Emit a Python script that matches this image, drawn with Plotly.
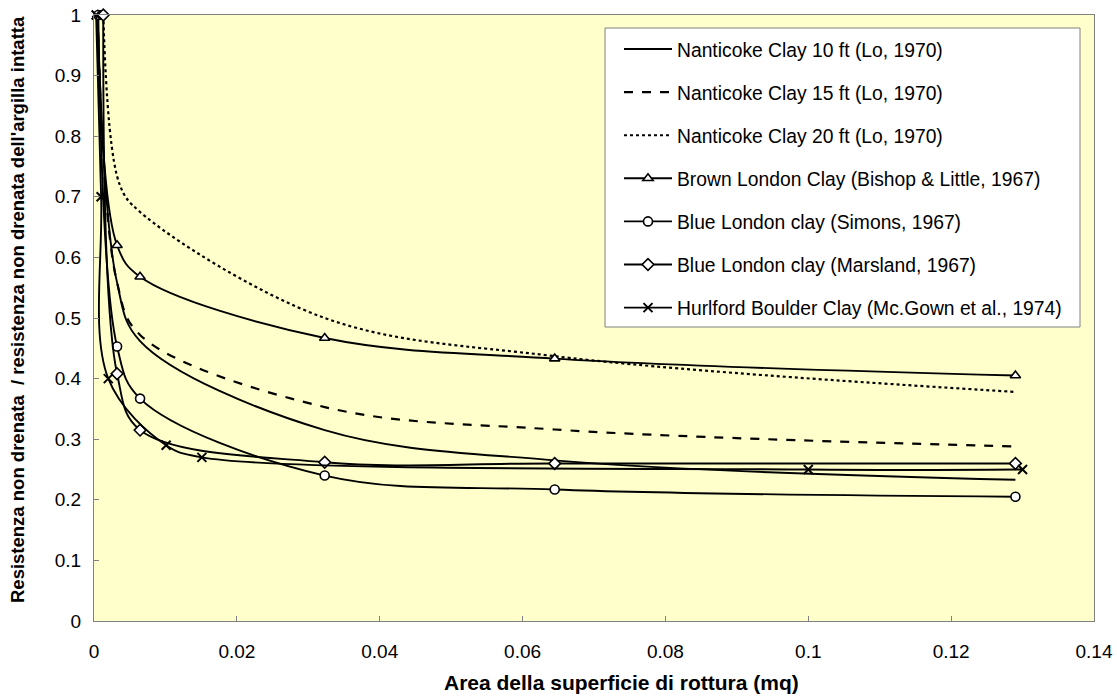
import plotly.graph_objects as go

# Data
names = [
    "Nanticoke Clay 10 ft (Lo, 1970)",
    "Nanticoke Clay 15 ft (Lo, 1970)",
    "Nanticoke Clay 20 ft (Lo, 1970)",
    "Brown London Clay (Bishop & Little, 1967)",
    "Blue London clay (Simons, 1967)",
    "Blue London clay (Marsland, 1967)",
    "Hurlford Boulder Clay (Mc.Gown et al., 1974)",
]

n10_x = [0.0005, 0.0032, 0.00645, 0.0323, 0.0645, 0.129]
n10_y = [1.0, 0.56, 0.462, 0.315, 0.265, 0.233]

n15_x = [0.0005, 0.0032, 0.00645, 0.0323, 0.0645, 0.129]
n15_y = [1.0, 0.56, 0.472, 0.353, 0.316, 0.288]

n20_x = [0.0013, 0.0036, 0.00645, 0.0323, 0.0645, 0.129]
n20_y = [1.0, 0.72, 0.675, 0.5, 0.437, 0.378]

brown_x = [0.0005, 0.00323, 0.00645, 0.0323, 0.0645, 0.129]
brown_y = [1.0, 0.62, 0.568, 0.467, 0.433, 0.405]

simons_x = [0.0006, 0.00323, 0.00645, 0.0323, 0.0645, 0.129]
simons_y = [1.0, 0.453, 0.367, 0.24, 0.217, 0.205]

marsland_x = [0.0013, 0.00323, 0.00645, 0.0323, 0.0645, 0.129]
marsland_y = [1.0, 0.408, 0.315, 0.262, 0.26, 0.26]

hurl_x = [0.0003, 0.001, 0.002, 0.0101, 0.0151, 0.1, 0.13]
hurl_y = [1.0, 0.70, 0.40, 0.29, 0.27, 0.25, 0.25]

x_ticks = [0, 0.02, 0.04, 0.06, 0.08, 0.1, 0.12, 0.14]
y_ticks = [0, 0.1, 0.2, 0.3, 0.4, 0.5, 0.6, 0.7, 0.8, 0.9, 1]

x_title = "Area della superficie di rottura (mq)"
y_title = "Resistenza non drenata  / resistenza non drenata dell'argilla intatta"

series = [
    (n10_x, n10_y, "solid", None),
    (n15_x, n15_y, "dash", None),
    (n20_x, n20_y, "dot", None),
    (brown_x, brown_y, "solid", "triangle-up"),
    (simons_x, simons_y, "solid", "circle"),
    (marsland_x, marsland_y, "solid", "diamond"),
    (hurl_x, hurl_y, "solid", "x-thin"),
]

fig = go.Figure()
for i, (xs, ys, dash, sym) in enumerate(series):
    mode = "lines+markers" if sym else "lines"
    marker = None
    if sym == "x-thin":
        marker = dict(symbol="x-thin", size=9, color="black",
                      line=dict(color="black", width=2))
    elif sym:
        marker = dict(symbol=sym, size=9, color="white",
                      line=dict(color="black", width=1.6))
    fig.add_trace(go.Scatter(
        x=xs, y=ys, name=names[i], mode=mode, cliponaxis=False,
        line=dict(color="black", width=1.9 if dash == "solid" else 2.2, dash=dash,
                  shape="spline", smoothing=1.0),
        marker=marker, legendgroup=f"g{i}",
    ))

# legend frame (white box with grey border)
fig.add_shape(type="rect", xref="paper", yref="paper",
              x0=(605 - 94) / 1000, x1=(1080 - 94) / 1000,
              y0=(621 - 327) / 606, y1=(621 - 28) / 606,
              fillcolor="white", line=dict(color="#808080", width=1), layer="below")

fig.update_layout(
    width=1117, height=696,
    margin=dict(l=94, r=23, t=15, b=75),
    paper_bgcolor="white",
    plot_bgcolor="#FFFFCC",
    font=dict(family="Liberation Sans, Arial, sans-serif", size=19, color="black"),
    showlegend=True,
    legend=dict(
        x=(619 - 94) / 1000, y=(621 - 30) / 606, xanchor="left", yanchor="top",
        bgcolor="rgba(0,0,0,0)", borderwidth=0,
        font=dict(size=19.3), itemwidth=48, tracegroupgap=15,
        traceorder="grouped",
    ),
    xaxis=dict(
        range=[0, 0.14], tickvals=x_ticks, ticktext=[f"{v:g}" for v in x_ticks],
        ticks="inside", ticklen=5, tickcolor="#808080",
        showline=True, linecolor="#808080", linewidth=1, mirror=True,
        showgrid=False, zeroline=False, ticklabelstandoff=13,
        automargin=False, tickfont=dict(size=19),
    ),
    yaxis=dict(
        range=[0, 1], tickvals=y_ticks, ticktext=[f"{v:g}" for v in y_ticks],
        ticks="inside", ticklen=5, tickcolor="#808080",
        showline=True, linecolor="#808080", linewidth=1, mirror=True,
        showgrid=False, zeroline=False, ticklabelstandoff=8,
        automargin=False, tickfont=dict(size=19),
    ),
    annotations=[
        dict(text=f"<b>{x_title}</b>", xref="paper", yref="paper",
             x=(621 - 94) / 1000, y=(621 - 682) / 606, xanchor="center", yanchor="middle",
             showarrow=False, font=dict(size=21)),
        dict(text=f"<b>{y_title}</b>", xref="paper", yref="paper",
             x=(18 - 94) / 1000, y=(621 - 310) / 606, xanchor="center", yanchor="middle",
             textangle=-90, showarrow=False, font=dict(size=18.5)),
    ],
)

fig.write_html("out.html", config={"displayModeBar": False},
               post_script="document.body.style.margin='0px';")
